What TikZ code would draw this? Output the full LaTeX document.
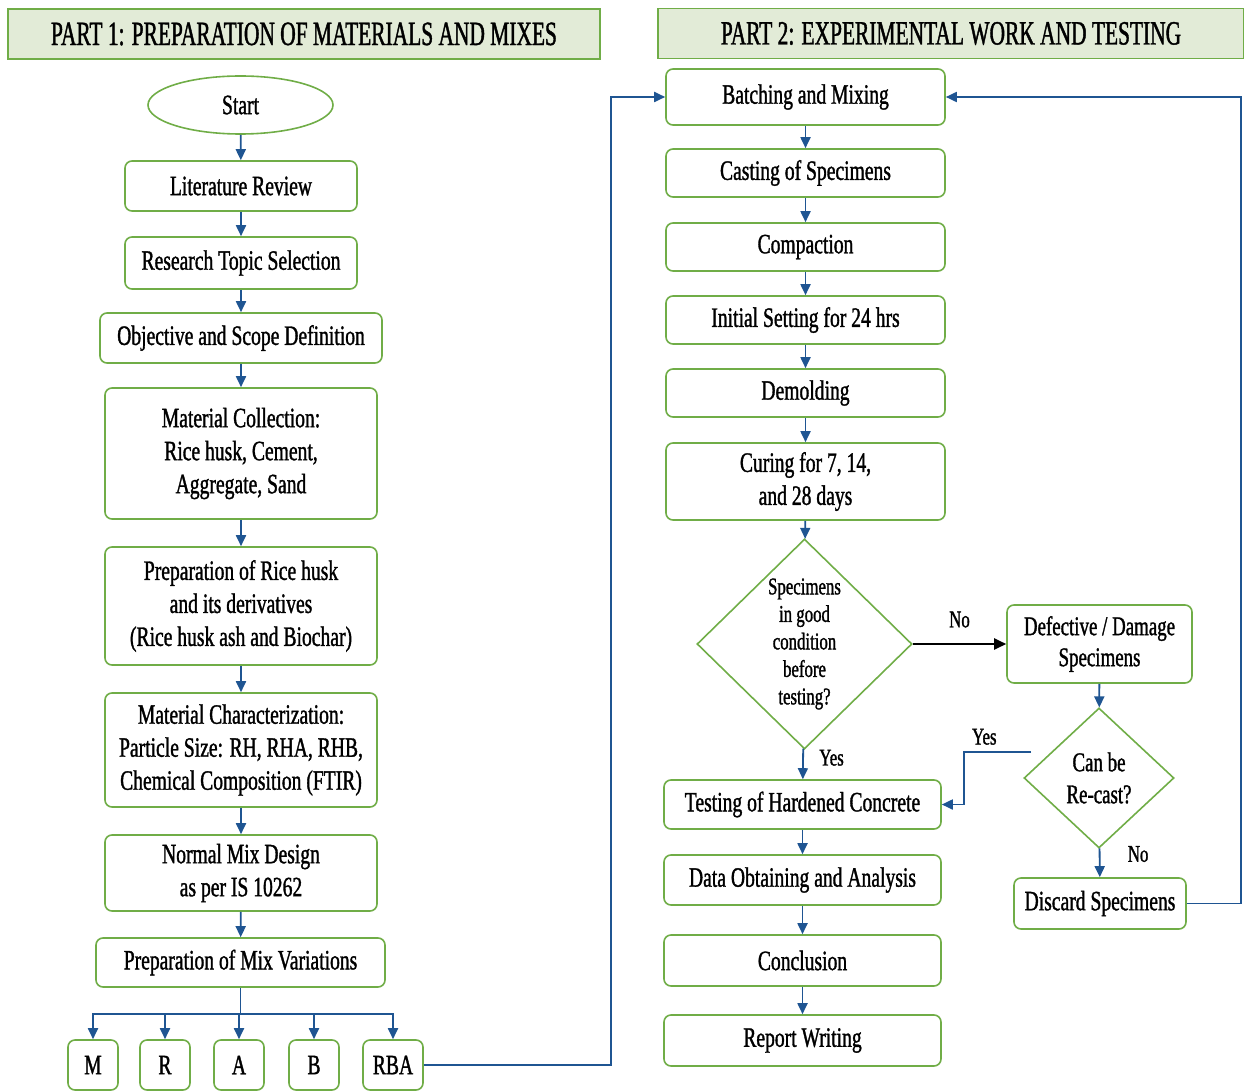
\documentclass[tikz,border=0pt]{standalone}
\usepackage{fontspec}
\setmainfont[FakeStretch=0.7, FakeBold=1.2]{Liberation Serif}
\newfontfamily\headfont[FakeStretch=0.63, FakeBold=1.2]{Liberation Serif}
\usepackage{xcolor}
\definecolor{boxGreen}{HTML}{70AD47}
\definecolor{headFill}{HTML}{E2EBD7}
\definecolor{flowBlue}{HTML}{1F5592}
\usepackage{tikz}
\usetikzlibrary{positioning,arrows.meta,shapes.geometric,calc}

\begin{document}
\begin{tikzpicture}[x=1pt, y=-1pt,
    every node/.style={font=\fontsize{28}{33}\selectfont},
    box/.style={draw=boxGreen, line width=1.6pt, rounded corners=7pt,
                align=center, inner sep=2pt, minimum width=277pt, minimum height=49pt},
    head/.style={draw=boxGreen, line width=1.6pt, fill=headFill,
                 font=\headfont\fontsize{34}{40}\selectfont, inner sep=0pt, minimum height=50pt},
    oval/.style={ellipse, draw=boxGreen, line width=1.6pt, inner sep=0pt,
                 minimum width=185pt, minimum height=58pt},
    dec/.style={diamond, draw=boxGreen, line width=1.6pt, align=center, inner sep=0pt},
    mixbox/.style={box, minimum width=50pt, minimum height=50pt},
    lbl/.style={font=\fontsize{24}{28}\selectfont},
    arr/.style={-{Triangle[length=11pt, width=10pt]}, draw=flowBlue, line width=1.8pt},
    line/.style={draw=flowBlue, line width=1.8pt}]
  \useasboundingbox (0,0) rectangle (1244,1091);

  % headings
  \node[head, minimum width=592pt] (part1) at (304,34) {PART 1: PREPARATION OF MATERIALS AND MIXES};
  \node[head, minimum width=586pt] (part2) at (951,33.5) {PART 2: EXPERIMENTAL WORK AND TESTING};

  % part 1
  \node[oval] (start) at (240.5,105) {Start};
  \node[box, minimum width=232pt, minimum height=50pt] (lit)   at (241,186) {Literature Review};
  \node[box, minimum width=232pt, minimum height=52pt] (topic) at (241,263) {Research Topic Selection};
  \node[box, minimum width=282pt, minimum height=50pt] (obj)   at (241,338) {Objective and Scope Definition};
  \node[box, minimum width=272pt, minimum height=131pt] (coll) at (241,453.5)
       {Material Collection:\\Rice husk, Cement,\\Aggregate, Sand};
  \node[box, minimum width=272pt, minimum height=118pt] (prep) at (241,606)
       {Preparation of Rice husk\\and its derivatives\\(Rice husk ash and Biochar)};
  \node[box, minimum width=272pt, minimum height=114pt] (chr)  at (241,750)
       {Material Characterization:\\Particle Size: RH, RHA, RHB,\\Chemical Composition (FTIR)};
  \node[box, minimum width=272pt, minimum height=76pt] (mixd)  at (241,873)
       {Normal Mix Design\\as per IS 10262};
  \node[box, minimum width=289pt, minimum height=49pt] (var)   at (240.5,962.5) {Preparation of Mix Variations};
  \coordinate (bus) at (240.5,1014);
  \node[mixbox] (mM)   at (93,1065)  {M};
  \node[mixbox] (mR)   at (165,1065) {R};
  \node[mixbox] (mA)   at (239,1065) {A};
  \node[mixbox] (mB)   at (314,1065) {B};
  \node[mixbox, minimum width=60pt] (mRBA) at (393,1065) {RBA};

  % part 2
  \node[box, minimum width=279pt, minimum height=56pt] (batch) at (805.5,97) {Batching and Mixing};
  \node[box, minimum width=279pt, minimum height=48pt] (cast)  at (805.5,173) {Casting of Specimens};
  \node[box, minimum width=279pt, minimum height=48pt] (comp)  at (805.5,247) {Compaction};
  \node[box, minimum width=279pt, minimum height=48pt] (init)  at (805.5,320) {Initial Setting for 24 hrs};
  \node[box, minimum width=279pt, minimum height=48pt] (demo)  at (805.5,393) {Demolding};
  \node[box, minimum width=279pt, minimum height=77pt] (cure)  at (805.5,481.5)
       {Curing for 7, 14,\\and 28 days};
  \node[dec, minimum width=215pt, minimum height=210pt, font=\fontsize{24}{27.5}\selectfont] (check) at (804.5,644)
       {Specimens\\in good\\condition\\before\\testing?};
  \node[box, minimum width=185pt, minimum height=78pt, font=\fontsize{27}{31}\selectfont] (defect) at (1099.5,644)
       {Defective / Damage\\Specimens};
  \node[dec, minimum width=150pt, minimum height=140pt, font=\fontsize{27}{32}\selectfont] (recast) at (1099,778)
       {Can be\\Re-cast?};
  \node[box] (test)    at (802.5,804.5) {Testing of Hardened Concrete};
  \node[box, minimum height=50pt] (data)   at (802.5,880) {Data Obtaining and Analysis};
  \node[box, minimum height=51pt] (concl)  at (802.5,960.5) {Conclusion};
  \node[box, minimum height=51pt] (report) at (802.5,1040.5) {Report Writing};
  \node[box, minimum width=172pt, minimum height=51pt] (discard) at (1100,903.5) {Discard Specimens};

  % part 1 arrows
  \draw[arr] (start) -- (lit);
  \draw[arr] (lit) -- (topic);
  \draw[arr] (topic) -- (obj);
  \draw[arr] (obj) -- (coll);
  \draw[arr] (coll) -- (prep);
  \draw[arr] (prep) -- (chr);
  \draw[arr] (chr) -- (mixd);
  \draw[arr] (mixd) -- (var);
  \draw[line] (var) -- (bus);
  \foreach \m in {mM,mR,mA,mB,mRBA}
    \draw[arr] (bus) -| (\m.north);
  \draw[arr] (mRBA.east) -- ++(187,0) |- (batch.west);

  % part 2 arrows
  \draw[arr] (batch) -- (cast);
  \draw[arr] (cast) -- (comp);
  \draw[arr] (comp) -- (init);
  \draw[arr] (init) -- (demo);
  \draw[arr] (demo) -- (cure);
  \draw[arr] (cure) -- (check);
  \draw[arr] (check) -- (test) node[lbl, pos=0.3, right=12pt] {Yes};
  \draw[-{Triangle[length=12pt, width=11pt]}, line width=2.2pt] (check.east) -- (defect.west)
       node[lbl, midway, above=12pt] {No};
  \draw[arr] (defect) -- (recast);
  \draw[arr] (recast) -- (discard) node[lbl, pos=0.2, right=24pt] {No};
  \draw[arr] ([xshift=8pt, yshift=26pt]recast.west) -- ++(-67,0)
       node[lbl, pos=0.7, above=3pt] {Yes} |- (test.east);
  \draw[arr] (test) -- (data);
  \draw[arr] (data) -- (concl);
  \draw[arr] (concl) -- (report);
  \draw[arr] (discard.east) -- ++(54,0) |- (batch.east);
\end{tikzpicture}
\end{document}
